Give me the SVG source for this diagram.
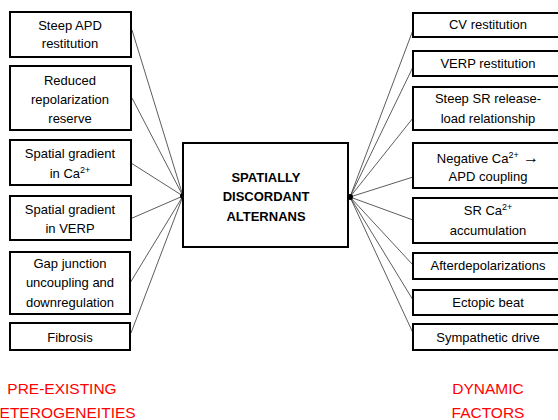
<svg xmlns="http://www.w3.org/2000/svg" width="558" height="420" viewBox="0 0 558 420">
<style>
.box{fill:#fff;stroke:#000;stroke-width:2}
.t{font-family:"Liberation Sans",Arial,sans-serif;font-size:13px;fill:#000;text-anchor:middle}
.c{font-family:"Liberation Sans",Arial,sans-serif;font-size:13px;font-weight:bold;fill:#000;text-anchor:middle}
.r{font-family:"Liberation Sans",Arial,sans-serif;font-size:15.5px;fill:#ff0000;text-anchor:middle}
.ln{stroke:#333;stroke-width:0.8;fill:none}
</style>
<rect width="558" height="420" fill="#fff"/>
<g id="connectors">
<path class="ln" d="M132,30 L183,196 M132,98 L183,196 M131,163 L183,196 M130,219 L183,196 M130,283 L183,196 M131,333 L183,196"/>
<path class="ln" d="M413,30 L350,197 M413,67 L350,197 M413,118 L350,197 M413,177 L350,197 M413,220 L350,197 M413,265 L350,197 M413,300 L350,197 M413,333 L350,197"/>
<circle cx="183" cy="196" r="3" fill="#000"/>
<circle cx="350" cy="197" r="3" fill="#000"/>
</g>
<g id="center">
<rect class="box" x="183" y="143" width="165" height="104" stroke-width="2.5"/>
<text class="c" x="266" y="182">SPATIALLY</text>
<text class="c" x="266" y="201">DISCORDANT</text>
<text class="c" x="266" y="221">ALTERNANS</text>
</g>
<g id="l1"><rect class="box" x="10" y="12" width="121" height="45"/><text class="t" x="70" y="30">Steep APD</text><text class="t" x="70" y="48">restitution</text></g>
<g id="l2"><rect class="box" x="10" y="66" width="121" height="64"/><text class="t" x="70" y="85">Reduced</text><text class="t" x="70" y="104">repolarization</text><text class="t" x="70" y="123">reserve</text></g>
<g id="l3"><rect class="box" x="10" y="140" width="121" height="45"/><text class="t" x="70" y="158">Spatial gradient</text><text class="t" x="70" y="178">in Ca<tspan font-size="9" dy="-5">2+</tspan></text></g>
<g id="l4"><rect class="box" x="10" y="196" width="121" height="44"/><text class="t" x="70" y="214">Spatial gradient</text><text class="t" x="70" y="233">in VERP</text></g>
<g id="l5"><rect class="box" x="10" y="252" width="120" height="62"/><text class="t" x="70" y="268">Gap junction</text><text class="t" x="70" y="287">uncoupling and</text><text class="t" x="70" y="307">downregulation</text></g>
<g id="l6"><rect class="box" x="10" y="323" width="120" height="27"/><text class="t" x="70" y="342">Fibrosis</text></g>
<g id="r1"><rect class="box" x="413" y="13" width="150" height="24"/><text class="t" x="488" y="29">CV restitution</text></g>
<g id="r2"><rect class="box" x="413" y="51" width="150" height="25"/><text class="t" x="488" y="68">VERP restitution</text></g>
<g id="r3"><rect class="box" x="413" y="87" width="150" height="43"/><text class="t" x="488" y="103">Steep SR release-</text><text class="t" x="488" y="123">load relationship</text></g>
<g id="r4"><rect class="box" x="413" y="143" width="150" height="45"/><text class="t" x="488" y="163">Negative Ca<tspan font-size="9" dy="-5">2+</tspan><tspan dy="5" font-size="16"> →</tspan></text><text class="t" x="488" y="181">APD coupling</text></g>
<g id="r5"><rect class="box" x="413" y="198" width="150" height="45"/><text class="t" x="488" y="215">SR Ca<tspan font-size="9" dy="-5">2+</tspan></text><text class="t" x="488" y="235">accumulation</text></g>
<g id="r6"><rect class="box" x="413" y="253" width="150" height="26"/><text class="t" x="488" y="270">Afterdepolarizations</text></g>
<g id="r7"><rect class="box" x="413" y="290" width="150" height="25"/><text class="t" x="488" y="307">Ectopic beat</text></g>
<g id="r8"><rect class="box" x="413" y="324" width="150" height="26"/><text class="t" x="488" y="342">Sympathetic drive</text></g>
<g id="labels">
<text class="r" x="62" y="394">PRE-EXISTING</text>
<text class="r" x="62" y="418">HETEROGENEITIES</text>
<text class="r" x="488" y="394">DYNAMIC</text>
<text class="r" x="488" y="418">FACTORS</text>
</g>
</svg>
